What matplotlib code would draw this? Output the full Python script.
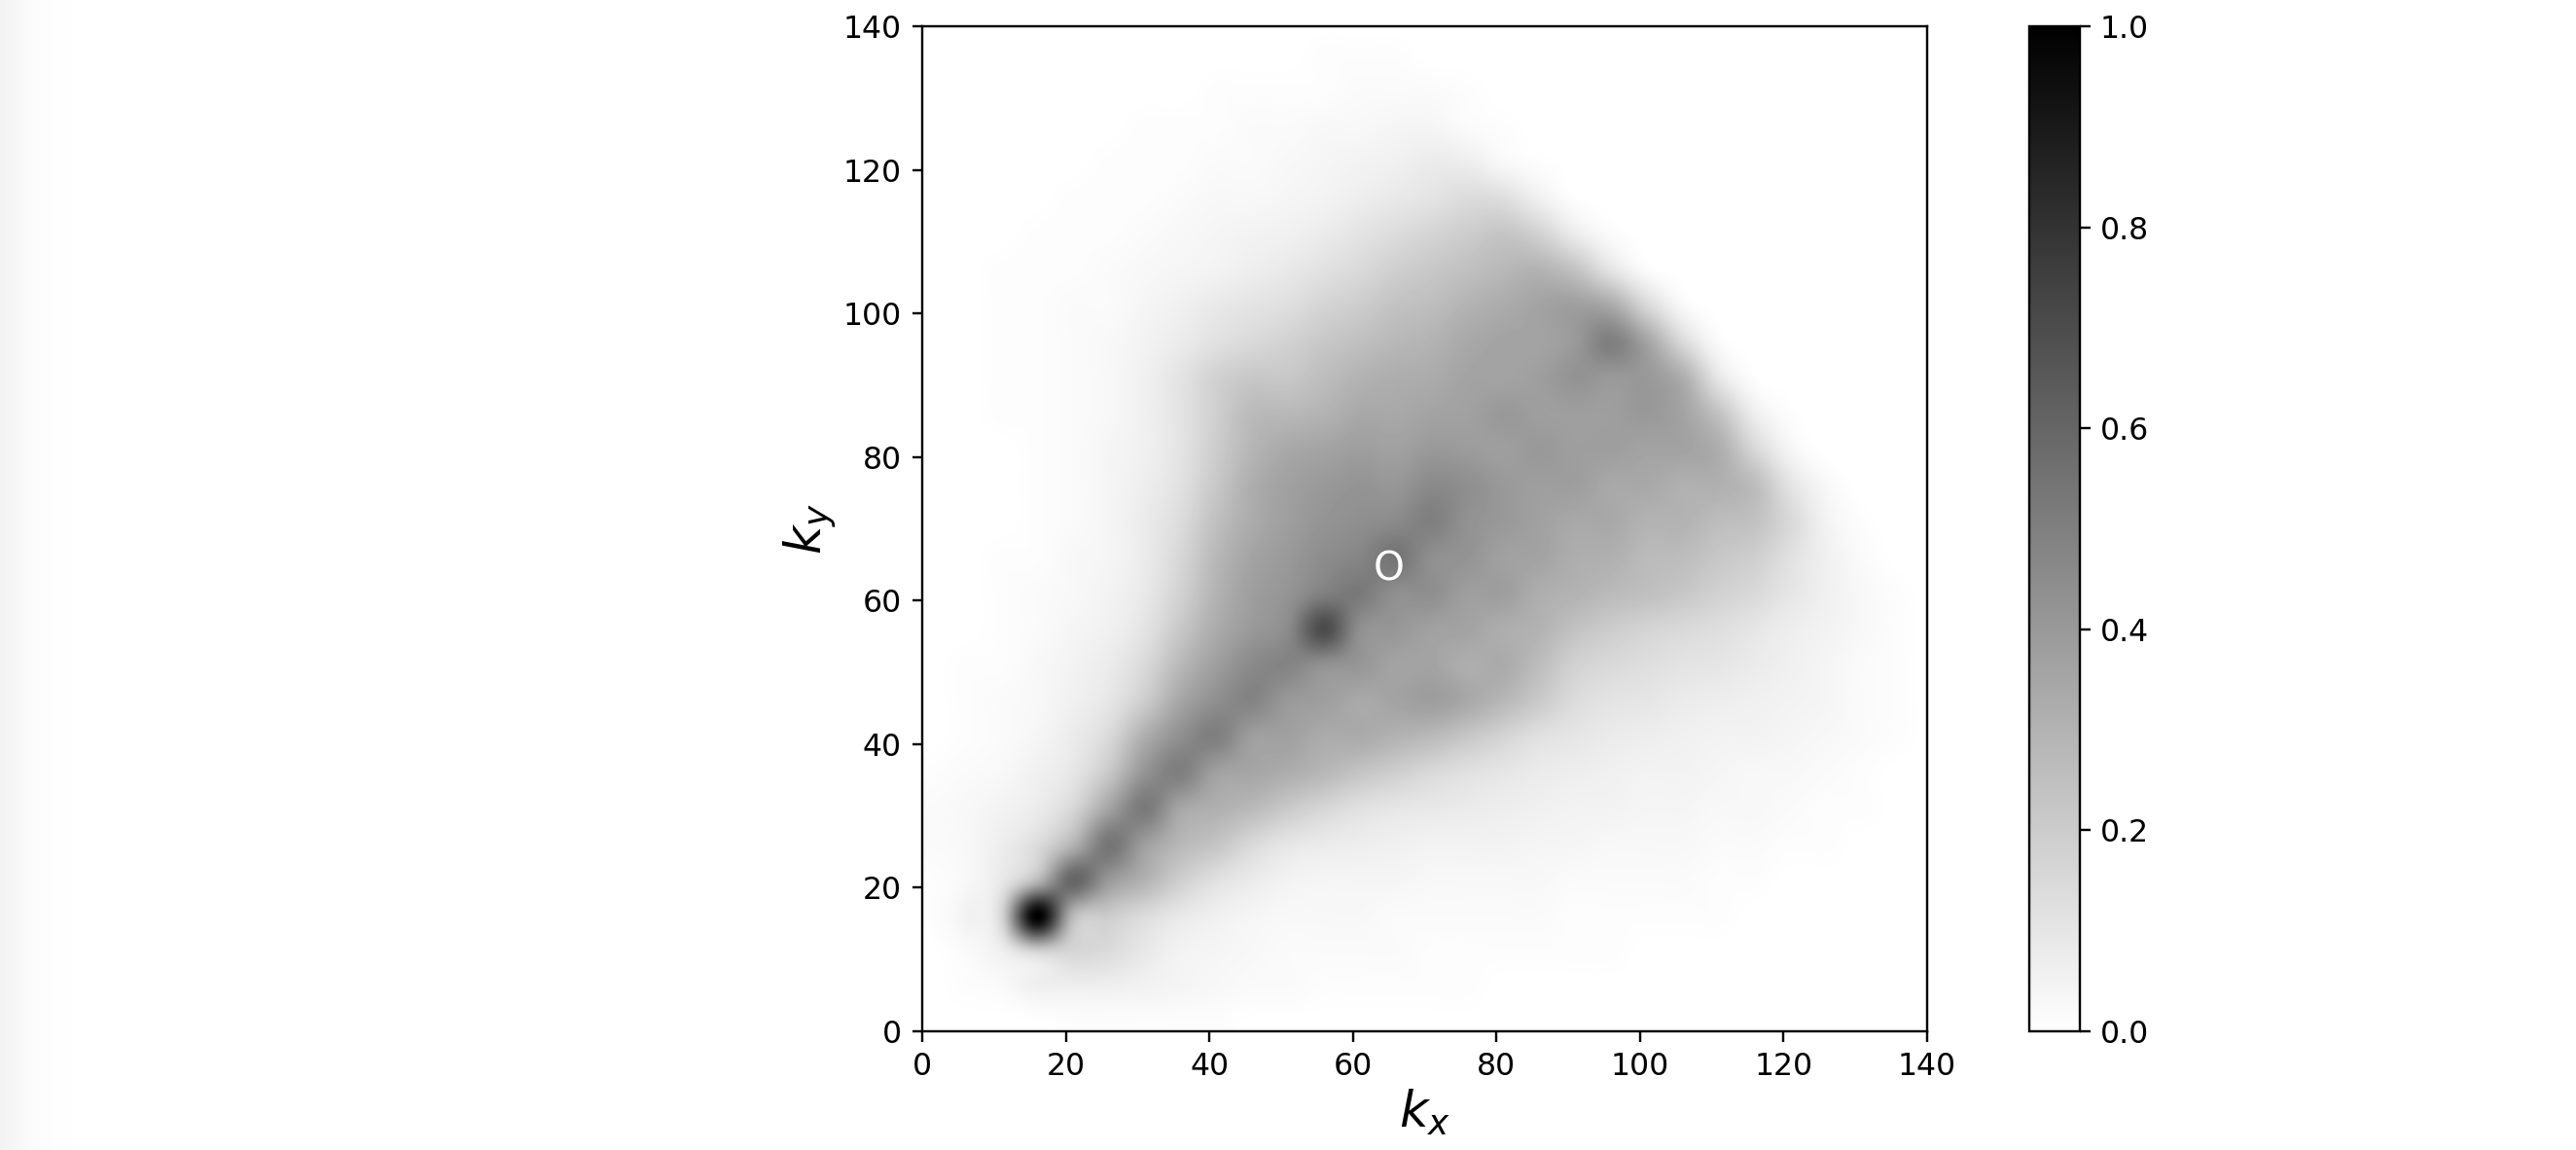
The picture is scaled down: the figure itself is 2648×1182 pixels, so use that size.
"""Spectral density in the (k_x, k_y) plane with its colour bar."""

import matplotlib

matplotlib.use("Agg")
import matplotlib.pyplot as plt
import numpy as np

K_VALUES = list(range(1, 142, 5))
TICKS = [0, 20, 40, 60, 80, 100, 120, 140]
BAR_TICKS = [0.0, 0.2, 0.4, 0.6, 0.8, 1.0]

# density in percent, one list per k_y row, columns follow K_VALUES
ky_141 = [0] * 29
ky_136 = [0,0,0,0,0,0,0,0,0,0, 0,1,1,1,0,0,0,0,0,0, 0,0,0,0,0,0,0,0,0]
ky_131 = [0,0,0,0,0,0,0,0,1,1, 1,1,2,2,2,1,0,0,0,0, 0,0,0,0,0,0,0,0,0]
ky_126 = [0,0,0,0,0,0,1,1,1,2, 2,3,3,4,4,2,1,0,0,0, 0,0,0,0,0,0,0,0,0]
ky_121 = [0,0,0,0,0,1,1,1,2,2, 3,4,5,6,8,7,3,1,0,0, 0,0,0,0,0,0,0,0,0]
ky_116 = [0,0,0,0,1,1,1,2,3,3, 4,5,7,9,11,14,13,6,1,0, 0,0,0,0,0,0,0,0,0]
ky_111 = [0,0,0,1,1,1,2,3,4,5, 6,8,11,14,17,20,23,18,8,2, 0,0,0,0,0,0,0,0,0]
ky_106 = [0,0,1,1,1,2,3,4,5,7, 9,12,15,19,22,25,28,30,24,11, 2,0,0,0,0,0,0,0,0]
ky_101 = [0,0,1,1,2,2,4,6,9,11, 13,17,20,24,26,30,33,36,38,34, 16,3,0,0,0,0,0,0,0]
ky_96 = [0,0,1,1,2,3,5,8,12,15, 18,22,25,28,30,34,36,36,40,50, 36,15,2,0,0,0,0,0,0]
ky_91 = [0,0,1,1,2,3,6,11,18,22, 22,26,30,32,33,36,36,38,42,40, 40,32,10,1,0,0,0,0,0]
ky_86 = [0,0,1,1,2,3,6,11,19,27, 28,30,34,34,36,37,40,38,38,38, 40,36,24,7,1,0,0,0,0]
ky_81 = [0,0,0,1,2,4,6,11,20,29, 34,36,38,37,40,39,38,40,38,38, 36,36,32,16,4,0,0,0,0]
ky_76 = [0,0,0,1,2,4,7,12,22,32, 37,40,42,41,46,44,40,38,38,34, 34,31,31,26,11,3,0,0,0]
ky_71 = [0,0,0,1,2,4,8,14,25,33, 38,42,44,46,50,43,40,37,34,34, 30,30,26,24,15,5,1,0,0]
ky_66 = [0,0,1,1,3,4,8,16,28,36, 40,45,48,54,44,42,37,36,32,31, 27,26,22,19,12,6,2,0,0]
ky_61 = [0,0,1,2,3,5,9,18,30,38, 42,50,52,44,44,38,38,32,30,27, 25,22,18,15,10,6,3,1,0]
ky_56 = [0,0,1,2,4,6,11,22,33,40, 46,70,44,41,37,36,32,30,24,20, 17,15,13,10,7,5,3,1,0]
ky_51 = [0,1,1,3,5,8,15,28,38,46, 48,43,41,36,36,32,33,26,18,15, 13,11,10,8,6,4,2,1,0]
ky_46 = [0,1,2,3,6,10,20,35,44,48, 40,38,34,36,38,34,28,21,14,11, 10,8,7,6,5,4,2,1,0]
ky_41 = [0,1,2,4,8,15,32,44,50,38, 37,33,33,30,27,22,17,12,10,8, 7,6,5,5,4,3,2,1,0]
ky_36 = [1,2,3,6,10,22,42,50,37,35, 32,28,23,19,15,12,10,8,7,6, 5,5,4,3,3,2,1,0,0]
ky_31 = [2,3,5,8,16,36,52,35,31,27, 21,16,12,10,9,8,7,6,5,5, 4,4,3,3,2,1,1,0,0]
ky_26 = [2,3,7,14,30,54,38,28,23,15, 10,8,7,6,5,5,5,4,4,3, 3,3,2,2,1,1,0,0,0]
ky_21 = [1,3,9,28,60,40,30,19,12,8, 5,4,4,4,3,3,3,3,2,2, 2,2,1,1,0,0,0,0,0]
ky_16 = [1,5,16,100,28,20,14,9,6,4, 3,3,3,2,2,2,2,2,1,1, 1,1,1,0,0,0,0,0,0]
ky_11 = [0,2,6,16,16,14,9,5,4,3, 2,2,2,2,1,1,1,1,1,1, 0,0,0,0,0,0,0,0,0]
ky_6 = [0,1,2,6,6,6,5,4,3,2, 2,1,1,1,1,1,0,0,0,0, 0,0,0,0,0,0,0,0,0]
ky_1 = [0,0,0,0,1,1,1,1,1,0, 0,0,0,0,0,0,0,0,0,0, 0,0,0,0,0,0,0,0,0]

ROWS = [
    ky_1, ky_6, ky_11, ky_16, ky_21, ky_26, ky_31, ky_36, ky_41, ky_46,
    ky_51, ky_56, ky_61, ky_66, ky_71, ky_76, ky_81, ky_86, ky_91, ky_96,
    ky_101, ky_106, ky_111, ky_116, ky_121, ky_126, ky_131, ky_136, ky_141,
]

# the faint grey band down the left edge of the page
EDGE_SHADES = [0.955, 0.965, 0.975, 0.985, 0.99, 0.992, 0.995, 0.996, 0.998, 1.0]

WIDTH, HEIGHT = 2648, 1182
DPI = 216


def px_rect(left, top, right, bottom):
    return [left / WIDTH, 1 - bottom / HEIGHT, (right - left) / WIDTH, (bottom - top) / HEIGHT]


def main():
    plt.rcParams["font.size"] = 10.5

    density = np.array(ROWS) / 100.0
    half = (K_VALUES[1] - K_VALUES[0]) / 2
    extent = [K_VALUES[0] - half, K_VALUES[-1] + half, K_VALUES[0] - half, K_VALUES[-1] + half]

    fig = plt.figure(figsize=(WIDTH / DPI, HEIGHT / DPI), dpi=DPI)

    edge = fig.add_axes(px_rect(0, 0, 100, HEIGHT))
    edge.imshow([EDGE_SHADES], cmap="gray", vmin=0, vmax=1, aspect="auto", interpolation="bilinear")
    edge.axis("off")

    ax = fig.add_axes(px_rect(948, 27, 1981, 1060))
    im = ax.imshow(
        density,
        origin="lower",
        extent=extent,
        cmap="gray_r",
        vmin=0,
        vmax=1,
        interpolation="catrom",
    )
    ax.set_xlim(0, 140)
    ax.set_ylim(0, 140)
    ax.set_xticks(TICKS)
    ax.set_yticks(TICKS)
    ax.set_xlabel(r"$k_x$", fontsize=17, labelpad=2)
    ax.set_ylabel(r"$k_y$", fontsize=17, labelpad=2)
    ax.text(65, 64.3, "O", color="white", fontsize=13.5, ha="center", va="center")

    cax = fig.add_axes(px_rect(2086, 27, 2138, 1060))
    bar = fig.colorbar(im, cax=cax)
    bar.set_ticks(BAR_TICKS)

    fig.savefig("out.png", dpi=DPI, facecolor="white")
    plt.close(fig)


if __name__ == "__main__":
    main()
